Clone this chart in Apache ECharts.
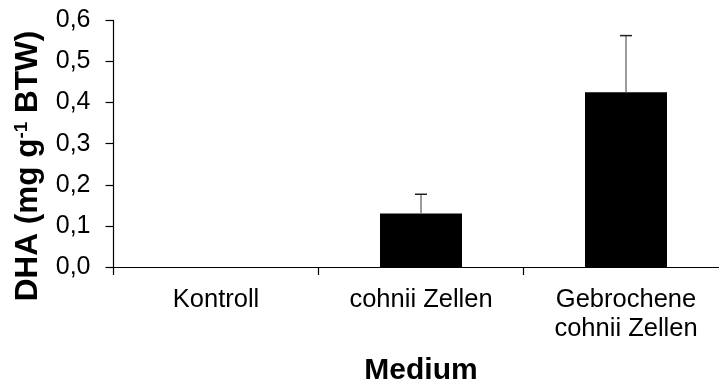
<!DOCTYPE html>
<html>
<head>
<meta charset="utf-8">
<script src="https://cdn.jsdelivr.net/npm/echarts@6/dist/echarts.min.js"></script>
<style>
  html, body { margin: 0; padding: 0; background: #fff; overflow: hidden; }
  /* the category axis runs a little past the right edge of the view */
  #chart { width: 729px; height: 387px; }
</style>
</head>
<body>
<div id="chart"></div>
<script>
// DHA content per medium, mean and standard deviation (mg g^-1 dry weight)
const categories = ['Kontroll', 'cohnii Zellen', 'Gebrochene\ncohnii Zellen'];
const dhaMean = [0, 0.13, 0.425];
const dhaSd = [0, 0.047, 0.138];
const yTicks = [0, 0.1, 0.2, 0.3, 0.4, 0.5, 0.6];

const FONT = 'Liberation Sans, Arial, sans-serif';

// upper error whisker: [category index, mean, mean + sd]
const errorData = dhaMean
  .map((m, i) => [i, m, m + dhaSd[i]])
  .filter(d => d[2] > d[1]);

const chart = echarts.init(document.getElementById('chart'), null, { renderer: 'canvas' });

chart.setOption({
  animation: false,
  backgroundColor: '#fff',
  grid: {
    left: 113.5, right: 0.5, top: 20.4, bottom: 120,
    containLabel: false, outerBoundsMode: 'none'
  },
  xAxis: {
    type: 'category',
    data: categories,
    name: 'Medium',
    nameLocation: 'middle',
    nameGap: 89,
    nameTextStyle: { fontFamily: FONT, fontSize: 30, fontWeight: 'bold', color: '#000' },
    axisLine: { lineStyle: { color: '#000', width: 1.2 } },
    axisTick: { show: true, length: 8, lineStyle: { color: '#000', width: 1.2 } },
    axisLabel: { fontFamily: FONT, fontSize: 25.5, color: '#000', margin: 18, lineHeight: 29, interval: 0 }
  },
  yAxis: {
    type: 'value',
    min: yTicks[0],
    max: yTicks[yTicks.length - 1],
    interval: 0.1,
    splitLine: { show: false },
    axisLine: { show: true, lineStyle: { color: '#000', width: 1.2 } },
    axisTick: { show: true, length: 8, lineStyle: { color: '#000', width: 1.2 } },
    axisLabel: {
      fontFamily: FONT, fontSize: 25, color: '#000', margin: 23,
      formatter: v => v.toFixed(1).replace('.', ',')
    }
  },
  graphic: [{
    type: 'text',
    x: 28,
    y: 166,
    rotation: Math.PI / 2,
    style: {
      text: 'DHA (mg g{sup|-1} BTW)',
      font: 'bold 31.5px ' + FONT,
      fill: '#000',
      align: 'center',
      verticalAlign: 'middle',
      rich: {
        sup: { font: 'bold 19px ' + FONT, fill: '#000', verticalAlign: 'top', padding: [0, 0, 13, 0] }
      }
    }
  }],
  series: [
    {
      type: 'bar',
      data: dhaMean,
      barWidth: '40%',
      itemStyle: { color: '#000' },
      z: 2
    },
    {
      type: 'custom',
      data: errorData,
      z: 3,
      renderItem: function (params, api) {
        const base = api.coord([api.value(0), api.value(1)]);
        const top = api.coord([api.value(0), api.value(2)]);
        const half = 6;
        return {
          type: 'group',
          children: [
            { type: 'line', shape: { x1: base[0], y1: base[1], x2: top[0], y2: top[1] },
              style: { stroke: '#7a7a7a', lineWidth: 1.5 } },
            { type: 'line', shape: { x1: top[0] - half, y1: top[1], x2: top[0] + half, y2: top[1] },
              style: { stroke: '#222', lineWidth: 1.5 } }
          ]
        };
      }
    }
  ]
});
</script>
</body>
</html>
